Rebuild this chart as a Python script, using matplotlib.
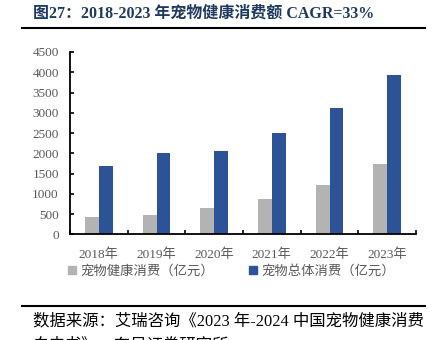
import matplotlib
matplotlib.use("Agg")
import matplotlib.pyplot as plt
import numpy as np
from matplotlib.patches import Patch

plt.rcParams['font.family'] = ['Liberation Serif', 'Noto Sans CJK SC', 'DejaVu Sans']

# data (亿元)
years = ['2018年', '2019年', '2020年', '2021年', '2022年', '2023年']
health = [420, 480, 650, 880, 1210, 1730]
total = [1690, 2000, 2060, 2490, 3120, 3930]
yticks = [0, 500, 1000, 1500, 2000, 2500, 3000, 3500, 4000, 4500]

gray = '#B3B3B3'
blue = '#2C5395'
tick_color = '#595959'

fig = plt.figure(figsize=(4.36, 3.40), dpi=100)
ax = fig.add_axes([70 / 436, 1 - 234.3 / 340, (416 - 70) / 436, (234.3 - 52) / 340])

x = np.arange(len(years))
w = 0.24
ax.bar(x - w / 2, health, width=w, color=gray, edgecolor='none')
ax.bar(x + w / 2, total, width=w, color=blue, edgecolor='none')

ax.set_xlim(-0.5, len(years) - 0.5)
ax.set_ylim(0, 4500)
ax.set_yticks(yticks)
ax.set_yticklabels([str(v) for v in yticks], color=tick_color, fontsize=9.5)
ax.set_xticks(x)
ax.set_xticklabels(years, color=tick_color, fontsize=9.5)
ax.set_xticks(np.arange(len(years) + 1) - 0.5, minor=True)
ax.tick_params(axis='x', which='major', length=0, pad=10)
ax.tick_params(axis='x', which='minor', direction='in', length=3, width=1.2)
ax.tick_params(axis='y', direction='in', length=3, width=1.2, pad=8)

for s in ['top', 'right']:
    ax.spines[s].set_visible(False)
for s in ['left', 'bottom']:
    ax.spines[s].set_linewidth(1.3)

handles = [Patch(color=gray, label='宠物健康消费（亿元）'),
           Patch(color=blue, label='宠物总体消费（亿元）')]
fig.legend(handles=handles, loc='center left', bbox_to_anchor=(56 / 436, 1 - 271.5 / 340),
           ncol=2, frameon=False, fontsize=9.6, handlelength=0.6, handleheight=0.6,
           handletextpad=0.35, columnspacing=2.6, labelcolor=tick_color)

# title and rules
fig.text(33 / 436, 1 - 14 / 340, '图27：2018-2023 年宠物健康消费额 CAGR=33%',
         fontsize=11.5, fontweight='bold', color='#1F3A5F', va='center', ha='left')
fig.add_artist(plt.Line2D([22 / 436, 425 / 436], [1 - 28 / 340] * 2, color='black', lw=1.5))
fig.add_artist(plt.Line2D([22 / 436, 425 / 436], [1 - 306 / 340] * 2, color='black', lw=1.5))

fig.text(33 / 436, 1 - 321 / 340, '数据来源：艾瑞咨询《2023 年-2024 中国宠物健康消费',
         fontsize=11.8, color='black', va='center', ha='left')
fig.text(33 / 436, 1 - 345 / 340, '白皮书》，东吴证券研究所',
         fontsize=11.8, color='black', va='center', ha='left')

fig.savefig('out.png', dpi=100)
